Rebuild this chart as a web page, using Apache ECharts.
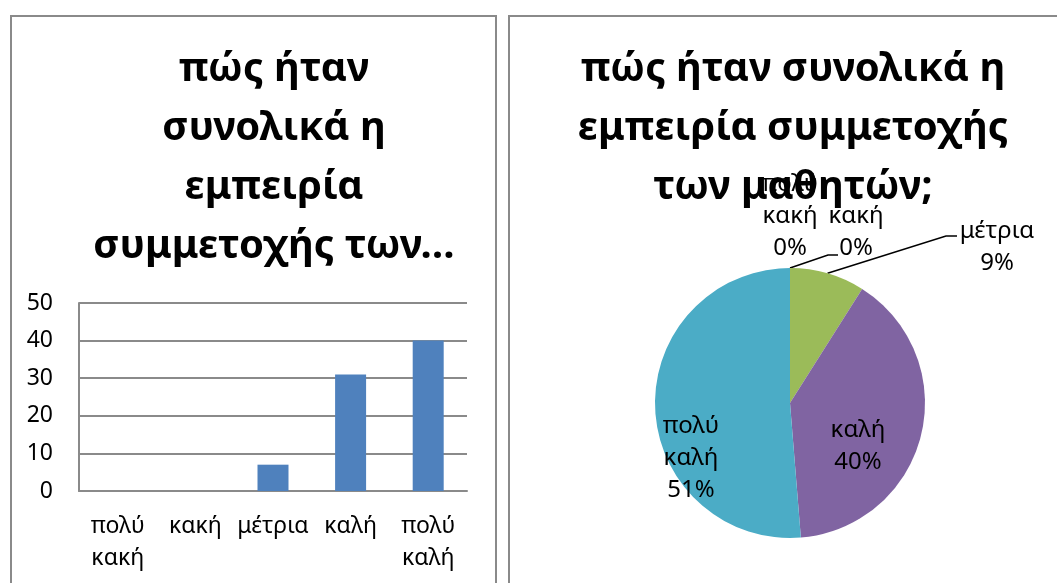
<!DOCTYPE html>
<html>
<head>
<meta charset="utf-8">
<script src="https://cdn.jsdelivr.net/npm/echarts@6/dist/echarts.min.js"></script>
<style>
  html, body { margin: 0; padding: 0; background: #fff; }
  #chart { width: 1057px; height: 583px; }
</style>
</head>
<body>
<div id="chart"></div>
<script>
// Survey answers: how was the students' participation experience overall
const categories = ['πολύ κακή', 'κακή', 'μέτρια', 'καλή', 'πολύ καλή'];
const counts = [0, 0, 7, 31, 40];
const yTicks = [0, 10, 20, 30, 40, 50];

const FONT = '"Noto Sans", "Open Sans", sans-serif';
const GRID_GREY = '#8a8a8a';
const sliceColors = ['#4F81BD', '#C0504D', '#9BBB59', '#8064A2', '#4BACC6'];

// pie geometry (pixels)
const PIE_CX = 790, PIE_CY = 403, PIE_R = 135;
// label block centres, as offsets from the pie centre
const labelSpots = [
  [0, -187], [66, -171], [207, -156], [68, 43], [-99, 55]
];

const total = counts.reduce((a, b) => a + b, 0);
function midAngle(i) {
  let before = 0;
  for (let k = 0; k < i; k++) before += counts[k];
  return ((before + counts[i] / 2) / total) * 2 * Math.PI; // clockwise from the top
}
function arcPoint(i) {
  const a = midAngle(i);
  return [PIE_CX + PIE_R * Math.sin(a), PIE_CY - PIE_R * Math.cos(a)];
}

const wrap = s => s.replace(' ', '\n');

const chart = echarts.init(document.getElementById('chart'), null, { renderer: 'canvas' });

chart.setOption({
  backgroundColor: '#fff',
  animation: false,
  textStyle: { fontFamily: FONT },
  graphic: [
    { type: 'rect', z: -10, shape: { x: 11, y: 16, width: 485, height: 600 },
      style: { fill: '#fff', stroke: GRID_GREY, lineWidth: 2 } },
    { type: 'rect', z: -10, shape: { x: 509, y: 16, width: 600, height: 600 },
      style: { fill: '#fff', stroke: GRID_GREY, lineWidth: 2 } }
  ],
  title: [
    {
      text: 'πώς ήταν\nσυνολικά η\nεμπειρία\nσυμμετοχής των…',
      left: 269, top: 35, textAlign: 'center',
      textStyle: { fontFamily: FONT, fontWeight: 'bold', fontSize: 40, lineHeight: 59, color: '#000' }
    },
    {
      text: 'πώς ήταν συνολικά η\nεμπειρία συμμετοχής\nτων μαθητών;',
      left: 788, top: 35, textAlign: 'center', z: 10,
      textStyle: { fontFamily: FONT, fontWeight: 'bold', fontSize: 40, lineHeight: 59, color: '#000' }
    }
  ],
  grid: { left: 79, width: 388, top: 303, height: 188, containLabel: false },
  xAxis: {
    type: 'category',
    data: categories,
    axisTick: { show: false },
    axisLine: { show: true, lineStyle: { color: GRID_GREY, width: 2 } },
    axisLabel: {
      interval: 0, margin: 19, color: '#000', fontFamily: FONT, fontSize: 23, lineHeight: 32,
      formatter: v => wrap(v)
    }
  },
  yAxis: {
    type: 'value',
    min: yTicks[0], max: yTicks[yTicks.length - 1], interval: 10,
    axisTick: { show: false },
    axisLine: { show: true, lineStyle: { color: GRID_GREY, width: 2 } },
    splitLine: { show: true, lineStyle: { color: GRID_GREY, width: 2 } },
    axisLabel: { margin: 26, color: '#000', fontFamily: FONT, fontSize: 23 }
  },
  series: [
    {
      type: 'bar',
      data: counts,
      barWidth: 31,
      itemStyle: { color: '#4F81BD' }
    },
    {
      type: 'pie',
      center: [PIE_CX, PIE_CY],
      radius: PIE_R,
      startAngle: 90,
      clockwise: true,
      avoidLabelOverlap: false,
      itemStyle: { borderWidth: 0 },
      label: {
        show: true,
        color: '#000', fontFamily: FONT, fontSize: 24, lineHeight: 32,
        formatter: p => wrap(p.name) + '\n' + Math.round(p.percent) + '%'
      },
      labelLine: { show: true, lineStyle: { color: '#000', width: 1.5 } },
      labelLayout: function (params) {
        const i = params.dataIndex;
        const spot = labelSpots[i];
        const out = {
          x: PIE_CX + spot[0], y: PIE_CY + spot[1],
          align: 'center', verticalAlign: 'middle'
        };
        if (i === 1) {
          out.labelLinePoints = [arcPoint(i), [PIE_CX + 38, PIE_CY - 148], [PIE_CX + 48, PIE_CY - 148]];
        } else if (i === 2) {
          out.labelLinePoints = [arcPoint(i), [PIE_CX + 156, PIE_CY - 167], [PIE_CX + 167, PIE_CY - 167]];
        }
        return out;
      },
      data: categories.map((name, i) => ({
        name: name,
        value: counts[i],
        itemStyle: { color: sliceColors[i] },
        labelLine: { show: i === 1 || i === 2 }
      }))
    }
  ]
});
</script>
</body>
</html>
